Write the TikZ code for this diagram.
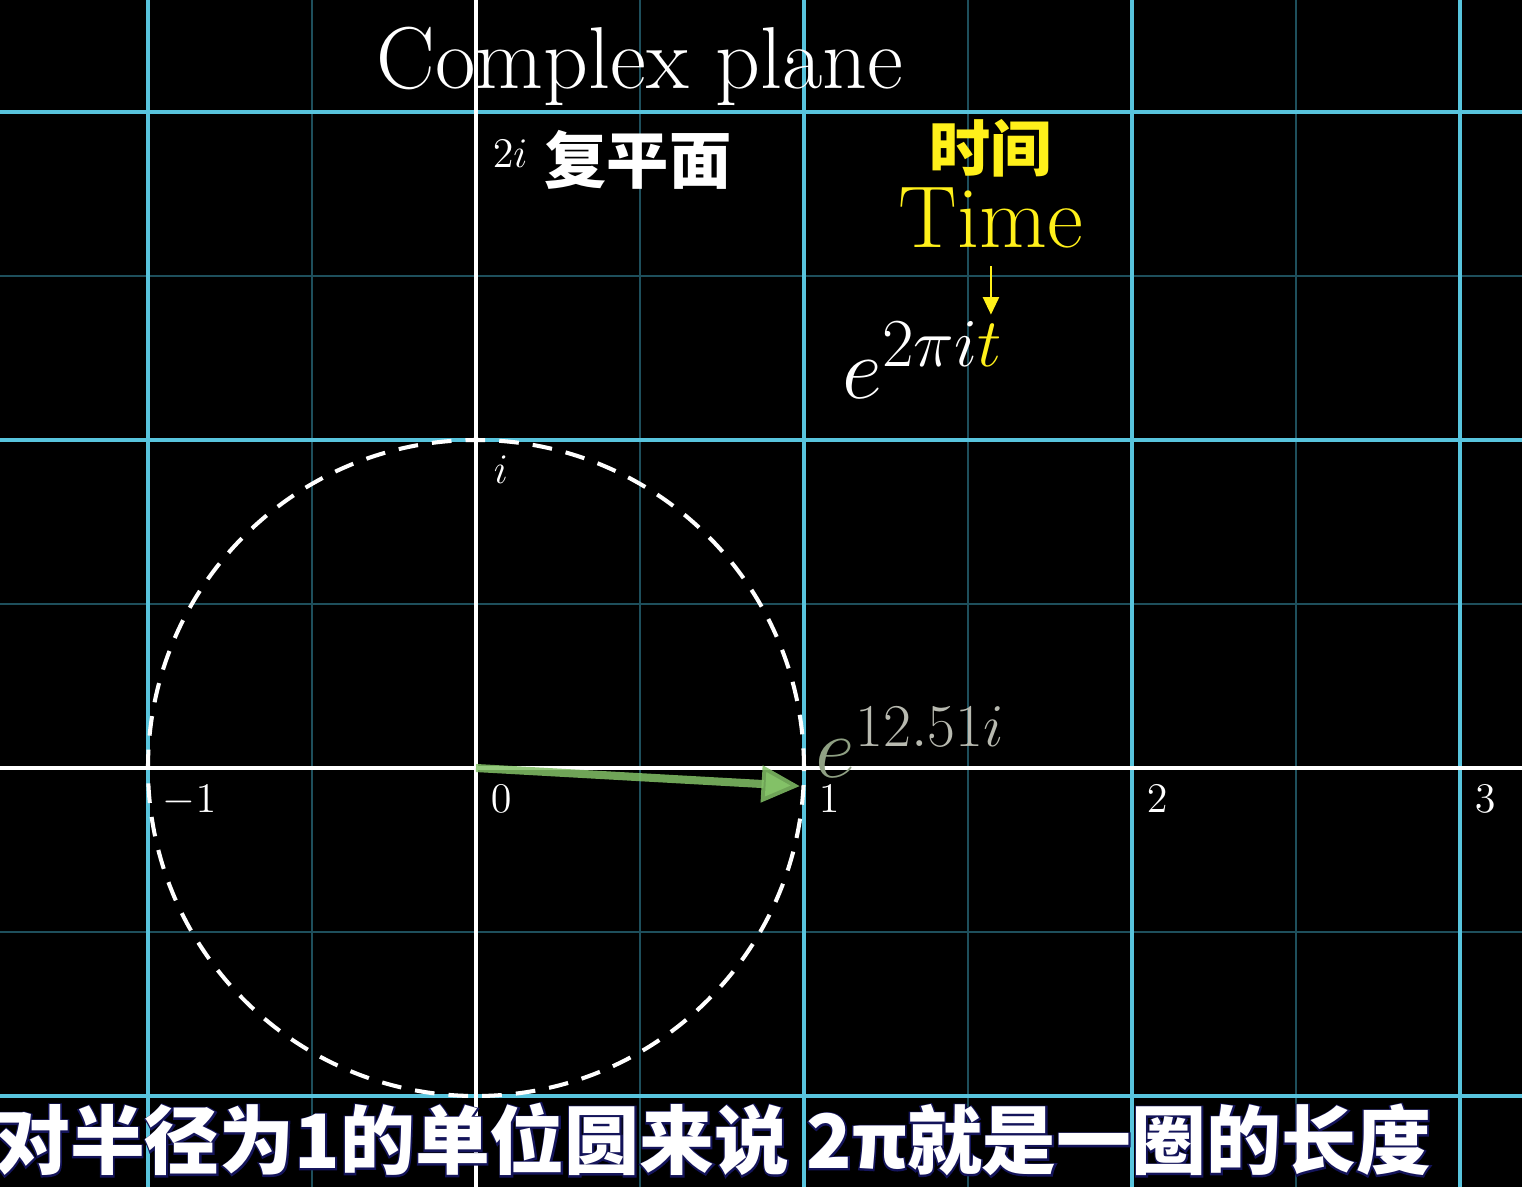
\documentclass[tikz,border=0pt]{standalone}
\usepackage{fontspec}
\usepackage{graphicx}
\newfontfamily\cjk{Noto Sans CJK SC}
\newfontfamily\cjkhalo{Noto Sans CJK SC}[BoldFeatures={FakeBold=4}]
\usetikzlibrary{arrows.meta, calc}
\definecolor{cgrid}{HTML}{58C4DD}
\definecolor{cminor}{HTML}{1E4F5C}
\definecolor{cyellow}{HTML}{FFF01A}
\definecolor{cgreen}{HTML}{83C167}
\definecolor{cfade}{HTML}{B8BAB0}
\definecolor{cfadee}{HTML}{8FA083}
\definecolor{cnavy}{HTML}{14145A}
\tikzset{
  major/.style={draw=cgrid, line width=1.15pt},
  minor/.style={draw=cminor, line width=0.6pt},
  axis/.style={draw=white, line width=1.3pt},
  unitcircle/.style={draw=white, line width=1.15pt, dash pattern=on 5.6pt off 4pt},
  vec/.style={-{Triangle[length=11pt, width=10pt]}, draw=cgreen, line width=2.3pt, draw opacity=0.85},
  tick/.style={text=white, font=\fontsize{12}{14}\selectfont, inner sep=0pt, anchor=north west},
  big/.style={font=\fontsize{25}{29}\selectfont, inner sep=0pt},
  han/.style={font=\cjk\bfseries\fontsize{#1}{#1}\selectfont, inner sep=0pt},
  sub/.style={font=\cjk\bfseries\fontsize{21.3}{22}\selectfont, inner sep=0pt, anchor=center},
  subhalo/.style={sub, font=\cjkhalo\bfseries\fontsize{21.3}{22}\selectfont},
}

\begin{document}
\begin{tikzpicture}[x=3.28cm, y=3.28cm]
  \fill[black] (-1.4512,-1.2774) rectangle (3.189,2.3415);
  \useasboundingbox (-1.4512,-1.2774) rectangle (3.189,2.3415);
  % grid
  \foreach \x in {-0.5,0.5,1.5,2.5} \draw[minor] (\x,-1.2774) -- (\x,2.3415);
  \foreach \y in {-0.5,0.5,1.5} \draw[minor] (-1.4512,\y) -- (3.189,\y);
  \foreach \x in {-1,...,3} \draw[major] (\x,-1.2774) -- (\x,2.3415);
  \foreach \y in {-1,...,2} \draw[major] (-1.4512,\y) -- (3.189,\y);
  \draw[axis] (0,-1.2774) -- (0,2.3415);
  \draw[axis] (-1.4512,0) -- (3.189,0);
  % unit circle and vector
  \coordinate (O) at (0,0);
  \coordinate (z) at (-3.2:0.99);
  \draw[unitcircle] (O) circle (1);
  \draw[vec] (O) -- (z);
  % tick labels
  \foreach \t [count=\i from -1] in {$-1$,$0$,$1$,$2$,$3$}
    \node[tick] (x\i) at (\i+0.043,-0.052) {\t};
  \node[tick] (y1) at (0.052,0.954) {$i$};
  \node[tick] (y2) at (0.049,1.918) {$2i$};
  % titles
  \node[big, text=white, anchor=base] (title) at (0.5,2.073) {Complex plane};
  \node[han=17.7, text=white] (fu) at (0.494,1.854) {复平面};
  \node[han=17.4, text=cyellow] (shijian) at (1.570,1.890) {时间};
  \node[big, text=cyellow, anchor=base] (time) at (1.570,1.588) {Time};
  \coordinate (tarrow) at (1.570,1.382);
  \draw[-{Triangle[length=5pt, width=4.5pt]}, cyellow, line width=0.8pt] ([yshift=-5pt]time.south) -- (tarrow);
  \node[anchor=base west, inner sep=0pt, text=white, font=\fontsize{25.5}{29}\selectfont] (expt) at (1.115,1.128) {$e^{\scalebox{1.13}{$\scriptstyle 2\pi i{\color{cyellow}t}$}}$};
  \node[anchor=base west, inner sep=0pt, font=\fontsize{24}{28}\selectfont] (expv) at (1.034,-0.03) {${\color{cfadee}e}^{\color{cfade}12.51i}$};
  % subtitle
  \node[subhalo, text=cnavy] (halo) at (0.723,-1.134) {对半径为1的单位圆来说 2π就是一圈的长度};
  \node[sub, text=white] (subtitle) at (0.723,-1.134) {对半径为1的单位圆来说 2π就是一圈的长度};
\end{tikzpicture}
\end{document}
